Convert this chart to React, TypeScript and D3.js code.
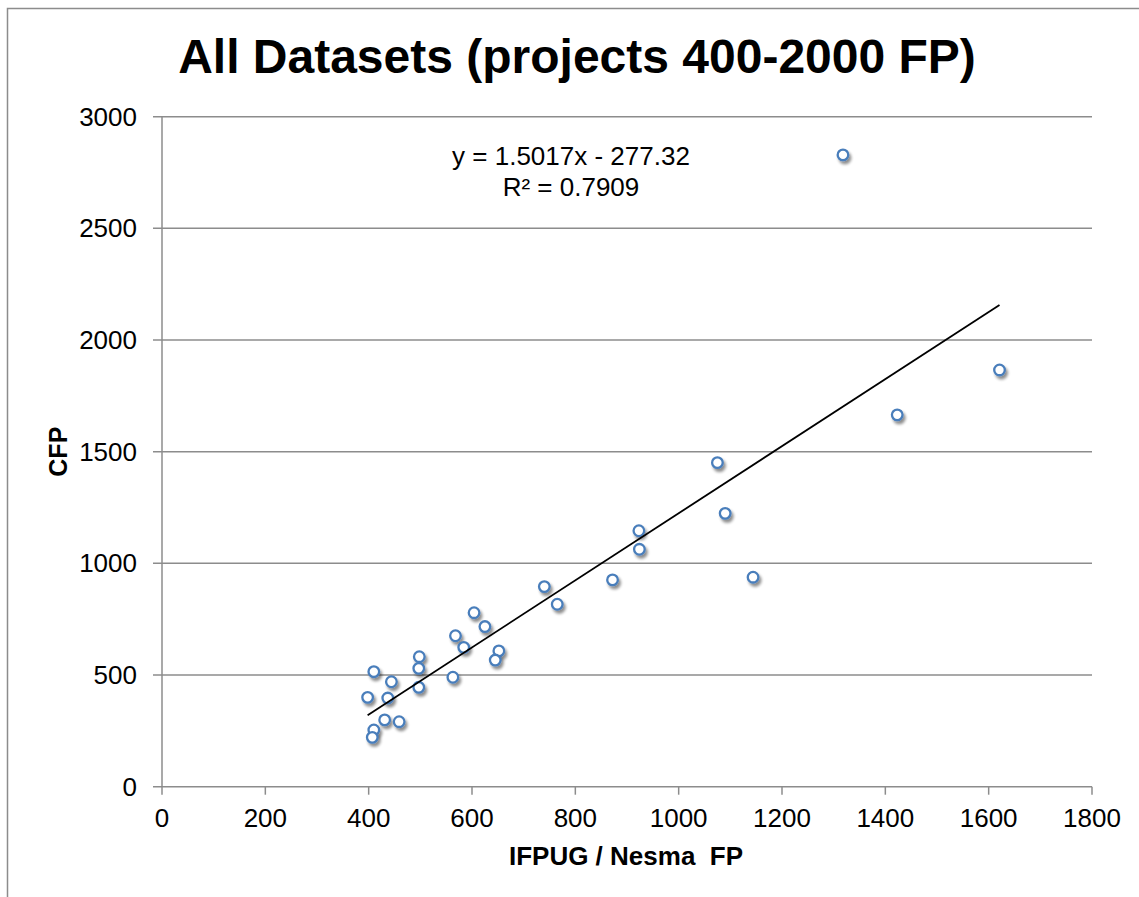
import React from "react";
import * as d3 from "d3";

const xValues = [410, 444, 398, 437, 431, 459, 410, 407, 498, 497, 497, 563, 568, 584, 604, 625, 652, 645, 740, 765, 872, 923, 924, 1075, 1090, 1144, 1318, 1423, 1621];
const yValues = [515, 470, 400, 397, 299, 291, 254, 221, 582, 530, 445, 490, 676, 624, 779, 717, 608, 567, 896, 817, 926, 1146, 1063, 1451, 1224, 938, 2829, 1665, 1866];
const xTicks = [0, 200, 400, 600, 800, 1000, 1200, 1400, 1600, 1800];
const yTicks = [0, 500, 1000, 1500, 2000, 2500, 3000];
const slope = 1.5017;
const intercept = -277.32;
const title = "All Datasets (projects 400-2000 FP)";
const xTitle = "IFPUG / Nesma  FP";
const yTitle = "CFP";
const eqLine1 = "y = 1.5017x - 277.32";
const eqLine2 = "R² = 0.7909";

export default function App() {
  const W = 1139, H = 897;
  const left = 162, right = 1092, top = 116.7, bottom = 786.7;
  const x = d3.scaleLinear().domain([0, 1800]).range([left, right]);
  const y = d3.scaleLinear().domain([0, 3000]).range([bottom, top]);
  const font = "Liberation Sans, Arial, sans-serif";
  const grid = "#8c8c8c";
  const xMin = d3.min(xValues)!;
  const xMax = d3.max(xValues)!;
  const line = d3.line<number>().x((v) => x(v)).y((v) => y(slope * v + intercept));
  const pts = xValues.map((v, i) => ({ x: v, y: yValues[i] }));

  return (
    <svg width={W} height={H} style={{ position: "absolute", left: 0, top: 0, background: "#fff" }} fontFamily={font}>
      <defs>
        <filter id="sh" x="-100%" y="-100%" width="300%" height="300%">
          <feGaussianBlur in="SourceAlpha" stdDeviation="1.6" />
          <feOffset dx="1.5" dy="2.5" result="ob" />
          <feComponentTransfer><feFuncA type="linear" slope="0.45" /></feComponentTransfer>
          <feMerge><feMergeNode /><feMergeNode in="SourceGraphic" /></feMerge>
        </filter>
      </defs>
      <rect x={0} y={0} width={W} height={H} fill="#fff" />
      <rect x={7.5} y={8.5} width={W + 10} height={H + 10} fill="none" stroke="#8c8c8c" strokeWidth={1.5} />
      <text x={577} y={73} textAnchor="middle" fontSize={48} fontWeight="bold" fill="#000">{title}</text>
      {yTicks.map((t) => (
        <g key={"y" + t}>
          <line x1={left - 9} x2={right} y1={y(t)} y2={y(t)} stroke={grid} strokeWidth={1.5} />
          <text x={137} y={y(t) + 9} textAnchor="end" fontSize={26} fill="#000">{t}</text>
        </g>
      ))}
      <line x1={left} x2={left} y1={top} y2={bottom} stroke={grid} strokeWidth={1.5} />
      {xTicks.map((t) => (
        <g key={"x" + t}>
          <line x1={x(t)} x2={x(t)} y1={bottom} y2={bottom + 8} stroke={grid} strokeWidth={1.5} />
          <text x={x(t)} y={827} textAnchor="middle" fontSize={26} fill="#000">{t}</text>
        </g>
      ))}
      <text x={626} y={865} textAnchor="middle" fontSize={26} fontWeight="bold" style={{ whiteSpace: "pre" }} fill="#000">{xTitle}</text>
      <text transform={`translate(66.5, ${(top + bottom) / 2}) rotate(-90)`} textAnchor="middle" fontSize={25} fontWeight="bold" fill="#000">{yTitle}</text>
      {pts.map((p, i) => (
        <circle key={i} cx={x(p.x)} cy={y(p.y)} r={5.3} fill="#fff" stroke="#4a7ebb" strokeWidth={2.3} filter="url(#sh)" />
      ))}
      <path d={line([xMin, xMax]) || ""} stroke="#000" strokeWidth={1.8} fill="none" />
      <text x={571} y={165} textAnchor="middle" fontSize={26} fill="#000">{eqLine1}</text>
      <text x={571} y={195.5} textAnchor="middle" fontSize={26} fill="#000">{eqLine2}</text>
    </svg>
  );
}
